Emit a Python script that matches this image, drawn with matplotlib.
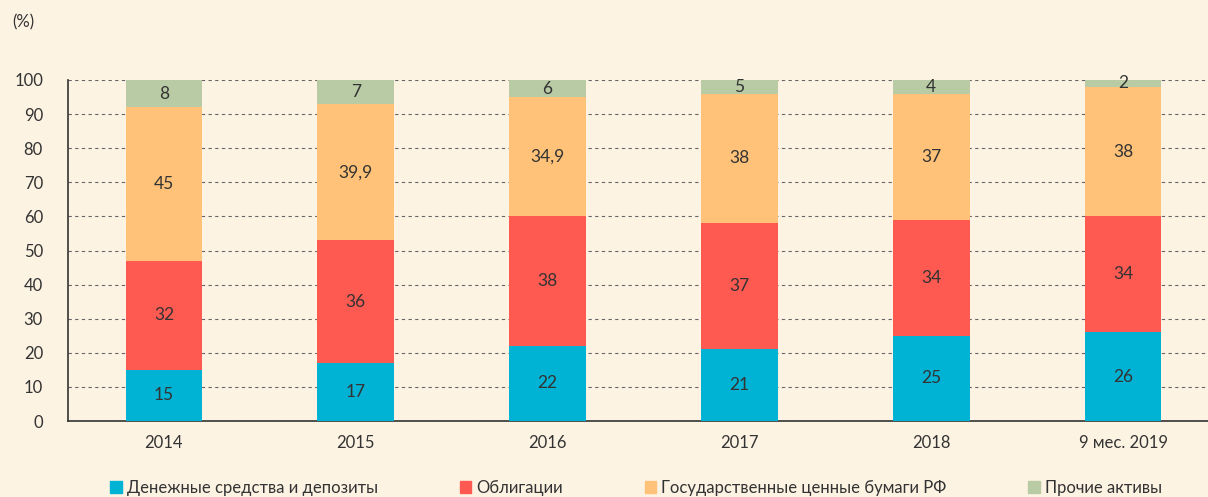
import numpy as np
import matplotlib.pyplot as plt
from matplotlib.patches import Patch

plt.rcParams['font.family'] = ['Lato', 'DejaVu Sans']

# data
years = ['2014', '2015', '2016', '2017', '2018', '9 мес. 2019']
cash = [15, 17, 22, 21, 25, 26]
bonds = [32, 36, 38, 37, 34, 34]
gov = [45, 39.9, 34.9, 38, 37, 38]
other = [8, 7, 6, 5, 4, 2]

series_names = ['Денежные средства и депозиты', 'Облигации',
                'Государственные ценные бумаги РФ', 'Прочие активы']
colors = ['#00B2D4', '#FF5A52', '#FFC278', '#B8CBA5']
bg = '#FDF3E3'
txt = '#333333'

fig = plt.figure(figsize=(12.08, 4.97), dpi=100, facecolor=bg)
ax = fig.add_axes([68 / 1208, 76 / 497, 1151 / 1208, 341 / 497])
ax.set_facecolor(bg)

x = np.arange(len(years))
bottom = np.zeros(len(years))
for vals, col in zip([cash, bonds, gov, other], colors):
    vals = np.array(vals, dtype=float)
    ax.bar(x, vals, 0.4, bottom=bottom, color=col, zorder=3)
    for xi, b, v in zip(x, bottom, vals):
        ymid = b + v / 2
        if b + v > 100:
            ymid = b + (100 - b) / 2
        lab = ('%g' % v).replace('.', ',')
        ax.text(xi, ymid, lab, ha='center', va='center', fontsize=12.5,
                color=txt, zorder=4)
    bottom += vals

ax.set_xlim(-0.5, 5.5)
ax.set_ylim(0, 100)
ax.set_yticks(np.arange(0, 101, 10))
ax.set_xticks(x)
ax.set_xticklabels(years)
ax.tick_params(length=0, labelsize=12, colors=txt)
ax.tick_params(axis='y', pad=18)
ax.tick_params(axis='x', pad=10)
ax.grid(axis='y', linestyle=(0, (3, 3)), color='#666666', linewidth=0.8, zorder=0)
for s in ['top', 'right']:
    ax.spines[s].set_visible(False)
for s in ['left', 'bottom']:
    ax.spines[s].set_color('#333333')
    ax.spines[s].set_linewidth(1.2)

fig.text(12 / 1208, 1 - 22 / 497, '(%)', fontsize=12, color=txt, va='center')

handles = [Patch(color=c) for c in colors]
fig.legend(handles, series_names, loc='center', bbox_to_anchor=(636 / 1208, 9 / 497),
           ncol=4, frameon=False, fontsize=12, handlelength=0.7, handleheight=0.7,
           handletextpad=0.3, columnspacing=4.9, labelcolor=txt)

fig.savefig('out.png', dpi=100, facecolor=bg)
